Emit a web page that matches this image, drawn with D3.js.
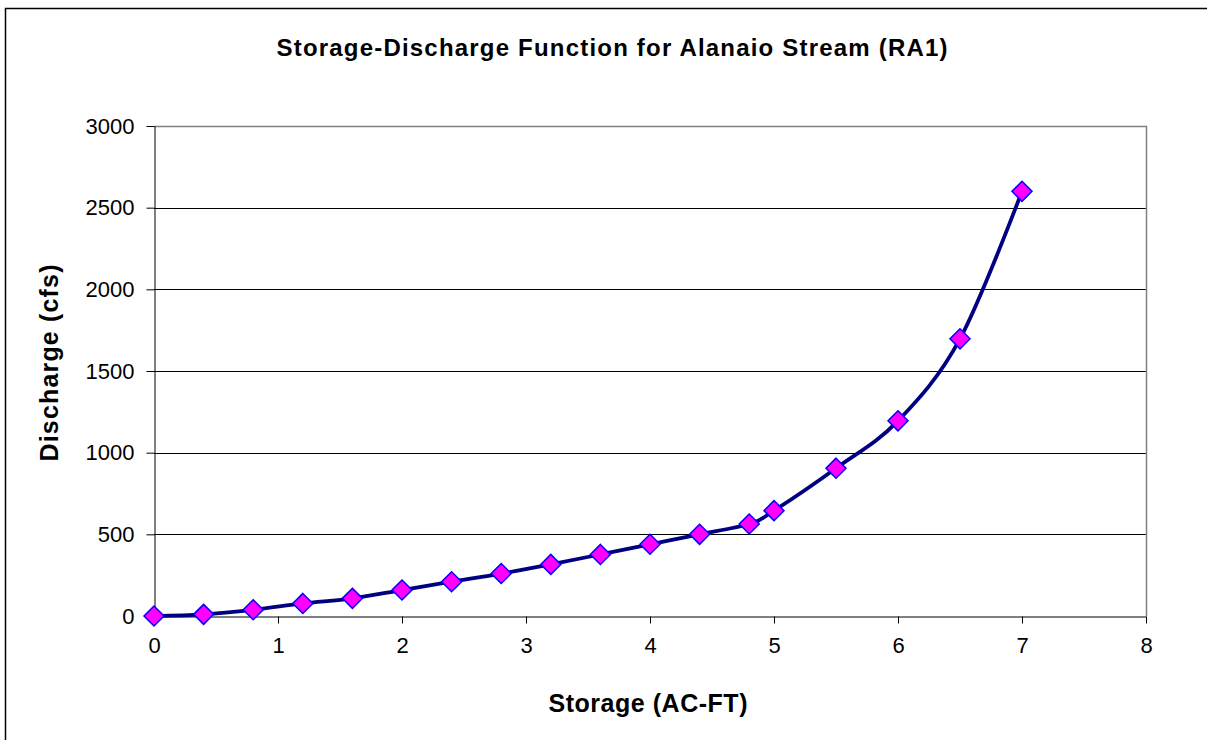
<!DOCTYPE html>
<html><head><meta charset="utf-8">
<script src="https://cdn.jsdelivr.net/npm/d3@7"></script>
<style>body{margin:0;background:#fff}svg{display:block}text{font-family:"Liberation Sans",Arial,sans-serif}</style>
</head><body>
<svg id="c" width="1207" height="740"></svg>
<script>
const storage = [0,0.4,0.8,1.2,1.6,2,2.4,2.8,3.2,3.6,4,4.4,4.8,5,5.5,6,6.5,7];
const discharge = [0,10,38,77,108,159,210,260,316,377,439,500,563,645,905,1195,1697,2600];
const xTicks = [0,1,2,3,4,5,6,7,8];
const yTicks = [0,500,1000,1500,2000,2500,3000];
const title = "Storage-Discharge Function for Alanaio Stream (RA1)";
const xTitle = "Storage (AC-FT)";
const yTitle = "Discharge (cfs)";

const svg = d3.select("#c");
const L=154, R=1146, T=126, B=616;
const x = d3.scaleLinear().domain([0,8]).range([L,R]);
const y = d3.scaleLinear().domain([0,3000]).range([B,T]);

svg.append("rect").attr("x",5.5).attr("y",8.5).attr("width",1300).attr("height",1000)
  .attr("fill","#fff").attr("stroke","#000").attr("stroke-width",1.5);

// gridlines
svg.append("g").selectAll("line").data(yTicks.filter(d=>d>0&&d<3000)).join("line")
  .attr("x1",L).attr("x2",R).attr("y1",d=>Math.round(y(d))+0.5).attr("y2",d=>Math.round(y(d))+0.5)
  .attr("stroke","#000").attr("stroke-width",1);
// frame top & right
svg.append("path").attr("d",`M${L},${T+0.5}H${R+0.5}V${B}`).attr("fill","none").attr("stroke","#808080").attr("stroke-width",1.5);

// axes
const xAxis = d3.axisBottom(x).tickValues(xTicks).tickSize(7).tickSizeOuter(0).tickPadding(14).tickFormat(d3.format("d"));
const gx = svg.append("g").attr("transform",`translate(0,${B+0.5})`).call(xAxis);
gx.attr("font-size",null).attr("font-family",null);
gx.select(".domain").attr("stroke","#000");
gx.selectAll("line").attr("stroke","#000");
gx.selectAll("text").style("font-size","22px").attr("fill","#000");

const yAxis = d3.axisLeft(y).tickValues(yTicks).tickSize(8).tickSizeOuter(0).tickPadding(12).tickFormat(d3.format("d"));
const gy = svg.append("g").attr("transform",`translate(${L+0.5},0)`).call(yAxis);
gy.attr("font-size",null).attr("font-family",null);
gy.select(".domain").attr("stroke","#000");
gy.selectAll("line").attr("stroke","#000");
gy.selectAll("text").style("font-size","22px").attr("fill","#000");

// line
const pts = storage.map((s,i)=>[s,discharge[i]]);
svg.append("path").datum(pts)
  .attr("d", d3.line().x(d=>x(d[0])).y(d=>y(d[1])).curve(d3.curveCatmullRom.alpha(0)))
  .attr("fill","none").attr("stroke","#000080").attr("stroke-width",3.8);

// markers
svg.append("g").selectAll("path").data(pts).join("path")
  .attr("transform",d=>`translate(${x(d[0])},${y(d[1])})`)
  .attr("d","M0,-10L10,0L0,10L-10,0Z")
  .attr("fill","#ff00ff").attr("stroke","#0000ff").attr("stroke-width",1.5);

svg.append("text").attr("x",612).attr("y",56).attr("text-anchor","middle")
  .attr("textLength",671).attr("lengthAdjust","spacing")
  .style("font-size","24px").attr("font-weight","bold").text(title);
svg.append("text").attr("x",648).attr("y",712).attr("text-anchor","middle")
  .attr("textLength",199).attr("lengthAdjust","spacing")
  .style("font-size","25px").attr("font-weight","bold").text(xTitle);
svg.append("text").attr("transform","translate(58,363) rotate(-90)").attr("text-anchor","middle")
  .attr("textLength",197).attr("lengthAdjust","spacing")
  .style("font-size","25px").attr("font-weight","bold").text(yTitle);
</script>
</body></html>
